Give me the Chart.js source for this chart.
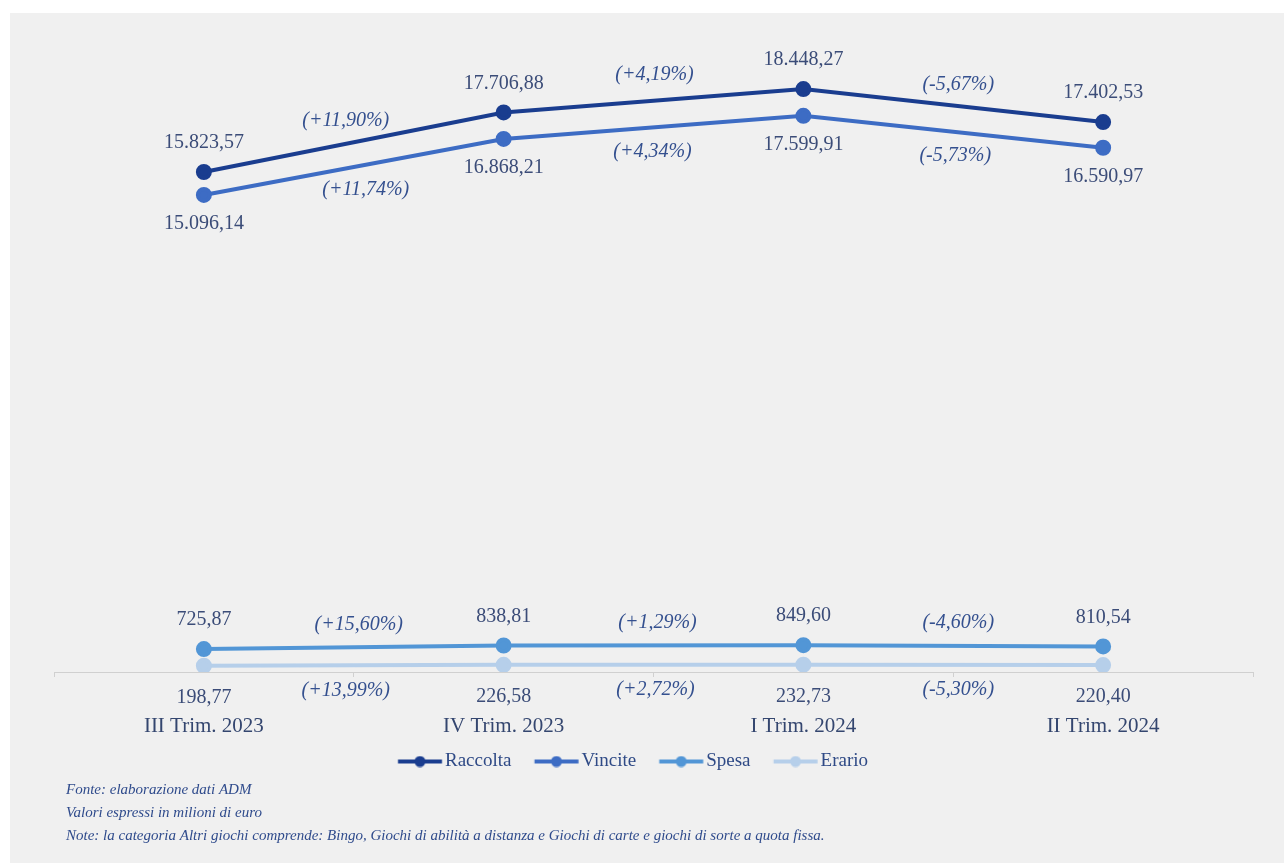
<!DOCTYPE html>
<html>
<head>
<meta charset="utf-8">
<script src="https://cdn.jsdelivr.net/npm/chart.js@4/dist/chart.umd.min.js"></script>
<style>
  html, body { margin: 0; padding: 0; background: #ffffff; }
  #wrap { position: absolute; left: 10px; top: 13px; width: 1274px; height: 850px; background: #f0f0f0; }
  canvas { display: block; }
</style>
</head>
<body>
<div id="wrap"><canvas id="c" width="1274" height="850"></canvas></div>
<script>
const categories = ['III Trim. 2023', 'IV Trim. 2023', 'I Trim. 2024', 'II Trim. 2024'];
const raccolta = [15823.57, 17706.88, 18448.27, 17402.53];
const vincite  = [15096.14, 16868.21, 17599.91, 16590.97];
const spesa    = [725.87, 838.81, 849.60, 810.54];
const erario   = [198.77, 226.58, 232.73, 220.40];

const pctRaccolta = ['(+11,90%)', '(+4,19%)', '(-5,67%)'];
const pctVincite  = ['(+11,74%)', '(+4,34%)', '(-5,73%)'];
const pctSpesa    = ['(+15,60%)', '(+1,29%)', '(-4,60%)'];
const pctErario   = ['(+13,99%)', '(+2,72%)', '(-5,30%)'];

const footnotes = [
  'Fonte: elaborazione dati ADM',
  'Valori espressi in milioni di euro',
  'Note: la categoria Altri giochi comprende: Bingo, Giochi di abilità a distanza e Giochi di carte e giochi di sorte a quota fissa.'
];

const colors = ['#1a3d8f', '#3d6cc4', '#5296d6', '#b6cfea'];
const SERIF = '"Liberation Serif", "DejaVu Serif", serif';

function fmtIt(v) {
  const parts = v.toFixed(2).split('.');
  const int = parts[0].replace(/\B(?=(\d{3})+(?!\d))/g, '.');
  return int + ',' + parts[1];
}

// legend marker image: wide transparent canvas, marker drawn offset so it sits close to the text
function legendMarker(color) {
  const c = document.createElement('canvas');
  c.width = 120; c.height = 12;
  const g = c.getContext('2d');
  const x0 = 48.75, x1 = 92.75, cx = (x0 + x1) / 2;
  g.strokeStyle = color; g.lineWidth = 4;
  g.beginPath(); g.moveTo(x0, 6); g.lineTo(x1, 6); g.stroke();
  g.fillStyle = color;
  g.beginPath(); g.arc(cx, 6, 5.5, 0, Math.PI * 2); g.fill();
  return c;
}

// label placement: 1 = above, -1 = below
const valueSide = [1, -1, 1, -1];
const pctSide   = [1, -1, 1, -1];
const pctLists  = [pctRaccolta, pctVincite, pctSpesa, pctErario];
const pctDx     = [[-8, 1, 5], [12, -1, 2], [5, 4, 5], [-8, 2, 5]];
const pctDy     = [[21, 26, 21], [23, 24, 24], [23, 23, 23], [25, 25, 25]];

const labelsPlugin = {
  id: 'labels',
  afterLayout(chart) {
    if (chart.legend) { chart.legend.left -= 28; chart.legend.right -= 28; }
  },
  afterDatasetsDraw(chart) {
    const ctx = chart.ctx;
    ctx.save();
    ctx.textAlign = 'center';
    ctx.textBaseline = 'middle';
    chart.data.datasets.forEach((ds, di) => {
      const meta = chart.getDatasetMeta(di);
      const side = valueSide[di];
      ctx.font = '20px ' + SERIF;
      ctx.fillStyle = '#3b4c78';
      meta.data.forEach((pt, i) => {
        const off = di === 3 ? 32 : 29;
        ctx.fillText(fmtIt(ds.data[i]), pt.x, pt.y - side * off);
      });
      ctx.font = 'italic 20px ' + SERIF;
      ctx.fillStyle = '#34508f';
      const pl = pctLists[di];
      for (let i = 0; i < meta.data.length - 1; i++) {
        const a = meta.data[i], b = meta.data[i + 1];
        const mx = (a.x + b.x) / 2, my = (a.y + b.y) / 2;
        ctx.fillText(pl[i], mx + pctDx[di][i], my - pctSide[di] * pctDy[di][i]);
      }
    });
    // footnotes
    ctx.textAlign = 'left';
    ctx.font = 'italic 15px ' + SERIF;
    ctx.fillStyle = '#2f4b8c';
    footnotes.forEach((t, i) => ctx.fillText(t, 56, 777 + i * 23));
    ctx.restore();
  }
};

const mk = (label, data, i) => ({
  label, data,
  borderColor: colors[i], backgroundColor: colors[i],
  pointBackgroundColor: colors[i], pointBorderColor: colors[i],
  borderWidth: 4, pointRadius: 6, pointHoverRadius: 6, tension: 0,
  pointStyle: 'circle'
});

new Chart(document.getElementById('c'), {
  type: 'line',
  data: {
    labels: categories,
    datasets: [
      mk('Raccolta', raccolta, 0),
      mk('Vincite', vincite, 1),
      mk('Spesa', spesa, 2),
      mk('Erario', erario, 3)
    ]
  },
  options: {
    responsive: false,
    animation: false,
    layout: { padding: { left: 44, right: 31, top: 27, bottom: 82 } },
    scales: {
      x: {
        offset: true,
        grid: { display: true, drawOnChartArea: false, offset: true, tickLength: 5, color: '#d0d0d0' },
        border: { display: true, color: '#d0d0d0', width: 1 },
        ticks: { font: { family: SERIF, size: 21 }, color: '#34466f', padding: 37, maxRotation: 0 },
        afterFit(axis) { axis.height = 72; }
      },
      y: { display: false, min: 0, max: 20000 }
    },
    plugins: {
      tooltip: { enabled: false },
      legend: {
        position: 'bottom',
        labels: {
          font: { family: SERIF, size: 19 },
          color: '#2f4a86',
          padding: 8,
          usePointStyle: true,
          pointStyleWidth: 52.5,
          generateLabels(chart) {
            return chart.data.datasets.map((ds, i) => ({
              text: ds.label,
              pointStyle: legendMarker(colors[i]),
              fillStyle: colors[i], strokeStyle: colors[i], lineWidth: 0,
              fontColor: '#2f4a86',
              datasetIndex: i, hidden: false
            }));
          }
        }
      }
    }
  },
  plugins: [labelsPlugin]
});
</script>
</body>
</html>
